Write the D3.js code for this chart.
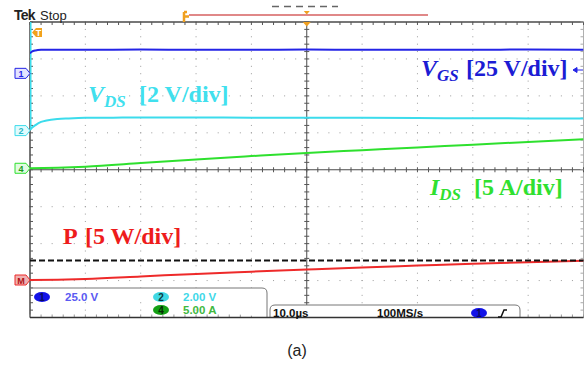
<!DOCTYPE html>
<html>
<head>
<meta charset="utf-8">
<script src="https://cdn.jsdelivr.net/npm/d3@7"></script>
<style>
  body { margin: 0; background: #fff; }
  svg { display: block; }
</style>
</head>
<body>
<svg width="587" height="365"></svg>
<script>
// ---- values (time in µs) ----
const vgsTime  = [0, 0.3, 1, 2, 3, 5, 10, 20, 30, 40, 50, 60, 70, 80, 90, 100];
const vgsVolts = [13.5, 14.6, 15.5, 15.9, 16, 16, 16, 16.1, 16, 16, 16.1, 16, 16, 16, 16.1, 16];

const vdsTime  = [0, 0, 0.3, 1, 2, 3, 5, 7, 10, 15, 20, 30, 40, 50, 60, 70, 80, 90, 100];
const vdsVolts = [9, 0.05, 0.14, 0.3, 0.47, 0.55, 0.63, 0.66, 0.69, 0.7, 0.71, 0.71, 0.7, 0.7, 0.69, 0.68, 0.67, 0.66, 0.65];

const idsTime = [0, 5, 10, 20, 30, 40, 50, 60, 70, 80, 90, 100];
const idsAmps = [0, 0.08, 0.22, 0.7, 1.2, 1.65, 2.08, 2.45, 2.82, 3.2, 3.57, 3.93];

const powerTime  = [0, 5, 10, 20, 30, 40, 50, 60, 70, 80, 90, 100];
const powerWatts = [0, 0.05, 0.15, 0.48, 0.83, 1.13, 1.42, 1.7, 1.95, 2.2, 2.42, 2.62];
const powerRef = 2.65;

// channel settings: scale per division and ground marker position (divisions from centre)
const ch1 = { name: '1', perDiv: 25, offset: 2.61, color: '#2424e6' };
const ch2 = { name: '2', perDiv: 2,  offset: 1.06, color: '#3cdcec' };
const ch4 = { name: '4', perDiv: 5,  offset: 0.04, color: '#2ee02e' };
const chM = { name: 'M', perDiv: 5,  offset: -2.985, color: '#ee2a2a' };

const svg = d3.select('svg');
const pLeft = 30, pRight = 583.5, pTop = 22, pBottom = 317.5;

const x = d3.scaleLinear().domain([0, 100]).range([pLeft, pRight]);
const yDiv = d3.scaleLinear().domain([-4, 4]).range([pBottom, pTop]);
const yOf = ch => v => yDiv(ch.offset + v / ch.perDiv);

const minorT = d3.range(0, 100.001, 2);
const minorD = d3.range(-4, 4.001, 0.2);

// ---- dotted graticule ----
const grid = svg.append('g').attr('fill', '#9c9c9c');
d3.range(1, 10).filter(d => d !== 5).forEach(d => {
  grid.selectAll(null).data(minorD).enter().append('rect')
    .attr('x', x(d * 10) - 0.5).attr('y', v => yDiv(v) - 0.5)
    .attr('width', 1).attr('height', 1);
});
d3.range(-3, 4).filter(d => d !== 0).forEach(d => {
  grid.selectAll(null).data(minorT).enter().append('rect')
    .attr('x', t => x(t) - 0.5).attr('y', yDiv(d) - 0.5)
    .attr('width', 1).attr('height', 1);
});

// ---- frame, centre cross and ticks ----
const frame = svg.append('g').attr('stroke', '#4a4a4a').attr('stroke-width', 1);
frame.append('line').attr('x1', pLeft).attr('x2', pRight).attr('y1', pTop).attr('y2', pTop).attr('stroke-width', 1.5);
frame.append('line').attr('x1', pLeft).attr('x2', pLeft).attr('y1', pTop).attr('y2', pBottom).attr('stroke-width', 1.5);
frame.append('line').attr('x1', pRight).attr('x2', pRight).attr('y1', pTop).attr('y2', pBottom).attr('stroke', '#b0b0b0');
frame.append('line').attr('x1', x(50)).attr('x2', x(50)).attr('y1', pTop).attr('y2', pBottom);
frame.append('line').attr('x1', pLeft).attr('x2', pRight).attr('y1', yDiv(0)).attr('y2', yDiv(0));

const ticks = frame.append('g').attr('stroke', '#555');
ticks.selectAll('.tt').data(minorT).enter().append('line')
  .attr('x1', x).attr('x2', x).attr('y1', pTop).attr('y2', pTop + 3);
ticks.selectAll('.tb').data(minorT).enter().append('line')
  .attr('x1', x).attr('x2', x).attr('y1', pBottom - 3).attr('y2', pBottom).attr('stroke', '#999');
ticks.selectAll('.tc').data(minorT).enter().append('line')
  .attr('x1', x).attr('x2', x).attr('y1', yDiv(0) - 2.5).attr('y2', yDiv(0) + 2.5);
ticks.selectAll('.tl').data(minorD).enter().append('line')
  .attr('x1', pLeft).attr('x2', pLeft + 3).attr('y1', yDiv).attr('y2', yDiv);
ticks.selectAll('.tr').data(minorD).enter().append('line')
  .attr('x1', pRight - 3).attr('x2', pRight).attr('y1', yDiv).attr('y2', yDiv).attr('stroke', '#aaa');
ticks.selectAll('.tv').data(minorD).enter().append('line')
  .attr('x1', x(50) - 2.5).attr('x2', x(50) + 2.5).attr('y1', yDiv).attr('y2', yDiv);

// ---- traces ----
svg.append('clipPath').attr('id', 'screen')
  .append('rect').attr('x', pLeft).attr('y', pTop).attr('width', pRight - pLeft).attr('height', pBottom - pTop);
const traces = svg.append('g').attr('clip-path', 'url(#screen)').attr('fill', 'none')
  .attr('stroke-width', 2).attr('stroke-linejoin', 'round');

function trace(times, values, ch) {
  const yy = yOf(ch);
  const line = d3.line().x(d => x(d[0])).y(d => yy(d[1])).curve(d3.curveMonotoneX);
  traces.append('path').attr('d', line(d3.zip(times, values))).attr('stroke', ch.color);
}
trace(idsTime, idsAmps, ch4);
trace(vdsTime.slice(1), vdsVolts.slice(1), ch2);
// vertical edge of V_DS at t = 0
traces.append('line').attr('x1', x(vdsTime[0]) + 0.5).attr('x2', x(vdsTime[1]) + 0.5)
  .attr('y1', yOf(ch2)(vdsVolts[0])).attr('y2', yOf(ch2)(vdsVolts[1])).attr('stroke', ch2.color);
trace(vgsTime, vgsVolts, ch1);
trace(powerTime, powerWatts, chM);

// reference level for power
svg.append('line')
  .attr('x1', pLeft).attr('x2', pRight)
  .attr('y1', yOf(chM)(powerRef)).attr('y2', yOf(chM)(powerRef))
  .attr('stroke', '#111').attr('stroke-width', 2).attr('stroke-dasharray', '6,3');

// ---- annotations ----
function annot(xMain, xRest, baseline, main, sub, rest, color) {
  const g = svg.append('g').attr('font-family', '"Liberation Serif", "Times New Roman", serif')
    .attr('font-weight', 'bold').attr('fill', color);
  const t = g.append('text').attr('x', xMain).attr('y', baseline).attr('font-size', 24);
  t.append('tspan').attr('font-style', sub ? 'italic' : 'normal').text(main);
  if (sub) t.append('tspan').attr('font-style', 'italic').attr('font-size', 17).attr('dy', 5).text(sub);
  g.append('text').attr('x', xRest).attr('y', baseline).attr('font-size', 24).text(rest);
}
annot(88, 139, 102, 'V', 'DS', '[2 V/div]', '#40e0ee');
annot(421, 466, 76, 'V', 'GS', '[25 V/div]', '#1c1cd4');
annot(430, 474, 195, 'I', 'DS', '[5 A/div]', '#30e030');
annot(63, 85, 244, 'P', null, '[5 W/div]', '#ee1c1c');

// small offset arrow for channel 1 at right
svg.append('path').attr('d', 'M573,70 l4,-2.5 v5 z M577,70 h6').attr('fill', '#2424e6')
  .attr('stroke', '#2424e6').attr('stroke-width', 1);

// ---- header ----
svg.append('text').attr('x', 14).attr('y', 20).attr('font-family', '"Liberation Sans", Arial, sans-serif')
  .attr('font-size', 14).attr('font-weight', 'bold').attr('letter-spacing', -0.8).attr('fill', '#222').text('Tek');
svg.append('text').attr('x', 40).attr('y', 20).attr('font-family', '"Liberation Sans", Arial, sans-serif')
  .attr('font-size', 13).attr('fill', '#222').text('Stop');
svg.append('line').attr('x1', 272).attr('x2', 338).attr('y1', 6.5).attr('y2', 6.5)
  .attr('stroke', '#666').attr('stroke-width', 1.5).attr('stroke-dasharray', '7,5');
svg.append('line').attr('x1', 189).attr('x2', 428).attr('y1', 15).attr('y2', 15)
  .attr('stroke', '#e08888').attr('stroke-width', 2);
svg.append('path').attr('d', 'M184,12 v10 M184,16.5 h5 M184,12 h3').attr('stroke', '#f0a020')
  .attr('stroke-width', 2.5).attr('fill', 'none');
svg.append('path').attr('d', `M${x(50) - 3},11 h6 l-3,3.5 z`).attr('fill', '#f0a020');
svg.append('path').attr('d', `M${x(50) - 4},${pTop} h8 l-4,4.5 z`).attr('fill', '#f0a020');

// trigger marker "T"
svg.append('path').attr('d', 'M32,32.5 l4,-4.5 h6 v9 h-6 z').attr('fill', '#f2a21c');
svg.append('text').attr('x', 38.5).attr('y', 36).attr('text-anchor', 'middle')
  .attr('font-family', '"Liberation Sans", Arial, sans-serif').attr('font-size', 9).attr('font-weight', 'bold')
  .attr('fill', '#fff').text('T');

// ---- ground markers on the left ----
function marker(ch, fill, textColor) {
  const yy = yDiv(ch.offset);
  svg.append('path').attr('d', `M15,${yy - 5} h11 l4,5 l-4,5 h-11 z`)
    .attr('fill', fill).attr('stroke', ch.color).attr('stroke-width', 1);
  svg.append('text').attr('x', 21).attr('y', yy + 3.5).attr('text-anchor', 'middle')
    .attr('font-family', '"Liberation Sans", Arial, sans-serif').attr('font-size', 9).attr('font-weight', 'bold')
    .attr('fill', textColor).text(ch.name);
}
marker(ch1, '#e4e4ff', '#2424e6');
marker(ch2, '#e0fbfd', '#2ab8c8');
marker(ch4, '#e2fbe2', '#1a9a1a');
marker(chM, '#eeb0b0', '#b01010');

// ---- readout boxes ----
const sans = '"Liberation Sans", Arial, sans-serif';
svg.append('path').attr('d', `M${pLeft},288 H262 q5,0 5,5 V${pBottom}`)
  .attr('fill', '#fff').attr('stroke', '#777').attr('stroke-width', 1);
svg.append('path').attr('d', `M270,${pBottom} V310 q0,-5 5,-5 H515 q5,0 5,5 V${pBottom}`)
  .attr('fill', '#fff').attr('stroke', '#777').attr('stroke-width', 1);
svg.append('line').attr('x1', pLeft).attr('x2', pRight).attr('y1', pBottom).attr('y2', pBottom)
  .attr('stroke', '#333').attr('stroke-width', 1.5);

function badge(cx, cy, fill, label, color) {
  svg.append('ellipse').attr('cx', cx).attr('cy', cy).attr('rx', 8).attr('ry', 5).attr('fill', fill);
  svg.append('text').attr('x', cx).attr('y', cy + 3.5).attr('text-anchor', 'middle')
    .attr('font-family', sans).attr('font-size', 10).attr('font-weight', 'bold').attr('fill', color).text(label);
}
function readout(xx, yy, txt, color) {
  svg.append('text').attr('x', xx).attr('y', yy).attr('font-family', sans).attr('font-size', 11.5)
    .attr('font-weight', 'bold').attr('fill', color).text(txt);
}
badge(42, 297, '#1212e8', '1', '#0a0a60');
readout(65, 301, '25.0 V', '#5a5af2');
badge(161, 297, '#40d8e4', '2', '#0a3a40');
readout(183, 301, '2.00 V', '#40d8e8');
badge(161, 310, '#14a014', '4', '#062a06');
readout(183, 314, '5.00 A', '#40b840');
readout(273, 317, '10.0µs', '#111');
readout(377, 317, '100MS/s', '#111');
badge(479, 313, '#1212e8', '1', '#0a0a60');
svg.append('path').attr('d', 'M498,317 h3 l3,-7 h3').attr('fill', 'none')
  .attr('stroke', '#111').attr('stroke-width', 1.5);

// caption
svg.append('text').attr('x', 297).attr('y', 356).attr('text-anchor', 'middle')
  .attr('font-family', sans).attr('font-size', 16).attr('fill', '#222').text('(a)');
</script>
</body>
</html>
